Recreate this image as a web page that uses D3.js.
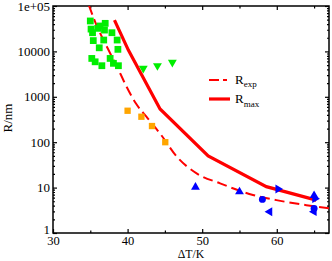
<!DOCTYPE html>
<html><head><meta charset="utf-8">
<script src="https://cdn.jsdelivr.net/npm/d3@7"></script>
<style>body{margin:0;background:#fff}svg{display:block}text{font-family:"Liberation Serif","DejaVu Serif",serif;fill:#000}</style>
</head><body>
<svg id="c" width="332" height="261"></svg>
<script>
// ---- data ----
const greenSqX = [35.0,35.1,35.3,36.0,36.3,37.0,36.9,37.9,35.4,36.8,36.2,38.6,38.7,35.2,35.65,36.55,37.66,38.1,38.77];
const greenSqR = [46800,31000,25800,32200,36300,41500,29500,25800,17300,17800,12000,17800,11100,7000,5900,4840,7000,5460,4840];
const greenTriX = [42.1,44.0,46.0];
const greenTriR = [4240,4840,5760];
const orangeX = [40.0,41.85,43.27,45.05];
const orangeR = [493,364,227,100];
const blueUpX = [49.1,55.0,65.0];
const blueUpR = [10.2,8.1,6.7];
const blueRightX = [60.16,65.1];
const blueRightR = [9.3,5.7];
const blueCircX = [58.07,65.0];
const blueCircR = [5.5,3.45];
const blueLeftX = [59.05,65.0];
const blueLeftR = [2.94,2.95];
const rexpX = [34.8,35.65,37.66,39.0,39.9,41.1,42.7,44.5,46.6,49.25,52.4,56.8,59.95,63.96,67.0];
const rexpR = [105000,44700,9100,3300,1620,720,336,144,48,20.6,12.4,6.9,5.3,4.1,3.5];
const rmaxX = [38.24,40.1,44.35,50.8,58.6,65.3];
const rmaxR = [49000,10700,540,50,10.5,5.3];
const xMajor = [30,40,50,60];
const xMinor = [35,45,55,65];
const yMajor = [1,10,100,1000,10000,100000];
const yTickLabels = ["1","10","100","1000","10000","1e+05"];
const xLabel = "ΔT/K", yLabel = "R/nm";

// ---- layout ----
const L=53,R=329,T=6,B=233;
const svg=d3.select("#c");
const x=d3.scaleLinear().domain([30,67]).range([L,R]);
const y=d3.scaleLog().domain([1,1e5]).range([B,T]);
const yMinor=[];
for(let d=1;d<1e5;d*=10) for(let k=2;k<=9;k++) yMinor.push(d*k);

svg.append("clipPath").attr("id","clip").append("rect").attr("x",L).attr("y",T).attr("width",R-L).attr("height",B-T);

// axes
function styleAxis(fs){return g=>{g.select(".domain").remove();g.selectAll("line").attr("stroke","#000").attr("stroke-width",1.2);g.selectAll("text").attr("font-size",fs).attr("font-family","Liberation Serif");};}
svg.append("g").attr("transform",`translate(0,${B})`).call(d3.axisBottom(x).tickValues(xMajor).tickSize(-4).tickPadding(3.5).tickFormat(d3.format("d"))).call(styleAxis(12.5));
svg.append("g").attr("transform",`translate(0,${B})`).call(d3.axisBottom(x).tickValues(xMinor).tickSize(-2.5).tickFormat("")).call(styleAxis(13));
svg.append("g").attr("transform",`translate(0,${T})`).call(d3.axisTop(x).tickValues(xMajor.slice(1)).tickSize(-4).tickFormat("")).call(styleAxis(13));
svg.append("g").attr("transform",`translate(0,${T})`).call(d3.axisTop(x).tickValues(xMinor).tickSize(-2.5).tickFormat("")).call(styleAxis(13));
const yl=svg.append("g").attr("transform",`translate(${L},0)`).call(d3.axisLeft(y).tickValues(yMajor).tickSize(-4).tickPadding(3).tickFormat((d,i)=>yTickLabels[i])).call(styleAxis(13));
yl.selectAll("text").filter(d=>d===1).attr("dy","0em");
svg.append("g").attr("transform",`translate(${L},0)`).call(d3.axisLeft(y).tickValues(yMinor).tickSize(-2).tickFormat("")).call(styleAxis(13));
svg.append("g").attr("transform",`translate(${R},0)`).call(d3.axisRight(y).tickValues(yMajor).tickSize(-4).tickFormat("")).call(styleAxis(13));
svg.append("g").attr("transform",`translate(${R},0)`).call(d3.axisRight(y).tickValues(yMinor).tickSize(-2).tickFormat("")).call(styleAxis(13));
svg.append("rect").attr("x",L).attr("y",T).attr("width",R-L).attr("height",B-T).attr("fill","none").attr("stroke","#000").attr("stroke-width",1.5);

// labels
svg.append("text").attr("x",(L+R)/2).attr("y",258.3).attr("text-anchor","middle").attr("font-size",11.8).text(xLabel);
svg.append("text").attr("transform","translate(12,118) rotate(-90)").attr("text-anchor","middle").attr("font-size",13).text(yLabel);

// lines
const plot=svg.append("g").attr("clip-path","url(#clip)");
const lineGen=d3.line().x(d=>x(d[0])).y(d=>y(d[1]));
plot.append("path").datum(rexpX.map((v,i)=>[v,rexpR[i]])).attr("d",lineGen.curve(d3.curveMonotoneX)).attr("fill","none").attr("stroke","#ff0000").attr("stroke-width",2).attr("stroke-dasharray","10,5");
plot.append("path").datum(rmaxX.map((v,i)=>[v,rmaxR[i]])).attr("d",d3.line().x(d=>x(d[0])).y(d=>y(d[1]))).attr("fill","none").attr("stroke","#ff0000").attr("stroke-width",3.2);

// markers
const sym=(type,size)=>d3.symbol().type(type).size(size)();
function pts(xs,rs,color,type,size,rot){
  plot.append("g").selectAll("path").data(xs.map((v,i)=>[v,rs[i]])).join("path")
   .attr("d",sym(type,size)).attr("fill",color)
   .attr("transform",d=>`translate(${x(d[0])},${y(d[1])}) rotate(${rot})`);
}
pts(greenSqX,greenSqR,"#00ee00",d3.symbolSquare,46,0);
pts(greenTriX,greenTriR,"#00ee00",d3.symbolTriangle,34,180);
pts(orangeX,orangeR,"#ffa500",d3.symbolSquare,40,0);
pts(blueUpX,blueUpR,"#0000ff",d3.symbolTriangle,34,0);
pts(blueRightX,blueRightR,"#0000ff",d3.symbolTriangle,34,90);
pts(blueLeftX,blueLeftR,"#0000ff",d3.symbolTriangle,34,-90);
pts(blueCircX,blueCircR,"#0000ff",d3.symbolCircle,38,0);

// legend
const lg=svg.append("g");
lg.append("line").attr("x1",209).attr("x2",230).attr("y1",80).attr("y2",80).attr("stroke","#ff0000").attr("stroke-width",2).attr("stroke-dasharray","10,4,4,3");
lg.append("line").attr("x1",209).attr("x2",230).attr("y1",99).attr("y2",99).attr("stroke","#ff0000").attr("stroke-width",3.2);
const t1=lg.append("text").attr("x",235).attr("y",83.5).attr("font-size",13);
t1.append("tspan").text("R");
t1.append("tspan").attr("font-size",9).attr("dy",3.5).text("exp");
const t2=lg.append("text").attr("x",235).attr("y",103).attr("font-size",13);
t2.append("tspan").text("R");
t2.append("tspan").attr("font-size",9).attr("dy",3.5).text("max");
</script>
</body></html>
